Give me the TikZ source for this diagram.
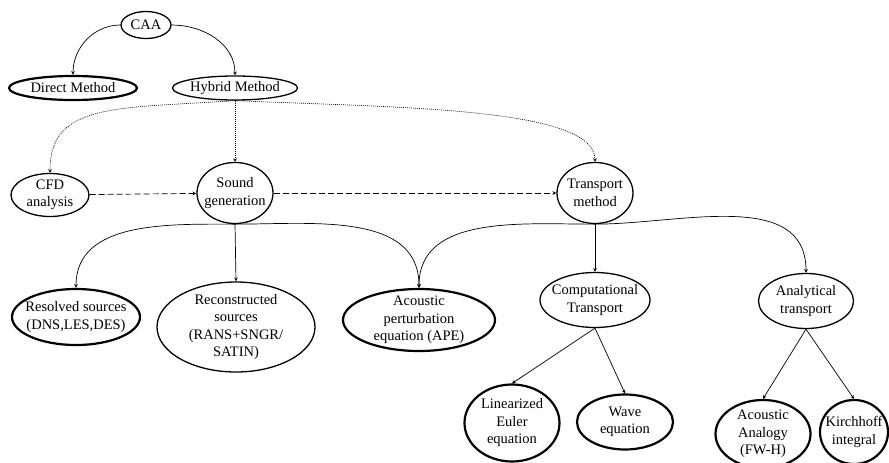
\documentclass[tikz,border=0pt]{standalone}
\usepackage{fontspec}
\setmainfont{Liberation Serif}
\usetikzlibrary{shapes.geometric,arrows,positioning}
\tikzstyle{oval} = [ellipse, draw, line width=1.3pt, align=center, inner sep=-10pt]
\tikzstyle{boldoval} = [oval, line width=2.2pt]
\tikzstyle{arrow} = [line width=0.7pt,->,>=stealth]
\tikzstyle{dots} = [arrow, line width=0.6pt, dash pattern=on 1pt off 1pt]
\tikzstyle{dashes} = [arrow, dash pattern=on 6pt off 3pt]
\tikzset{dims/.style 2 args={minimum width=#1pt, minimum height=#2pt}}

\begin{document}
\begin{tikzpicture}[x=1pt, y=-1pt, font=\fontsize{14.5}{17.5}\selectfont]
\useasboundingbox (0,0) rectangle (889,463);
% top level
\node[oval, dims={50}{27}] (caa) at (146,25) {CAA};
\node[boldoval, dims={128}{24}] (direct) at (73,88) {Direct Method};
\node[oval, dims={125}{24}] (hybrid) at (235,88) {Hybrid Method};
% hybrid chain
\node[oval, dims={78}{43}] (cfd) at (50,195) {CFD\\analysis};
\node[oval, dims={76}{61}] (sound) at (235,193) {Sound\\generation};
\node[oval, dims={76}{61}] (trans) at (595,193) {Transport\\method};
% sources
\node[boldoval, dims={128}{56}] (resolved) at (76,317) {Resolved sources\\(DNS,LES,DES)};
\node[oval, dims={158}{90}] (recon) at (236,327) {Reconstructed\\sources\\(RANS+SNGR/\\SATIN)};
\node[boldoval, dims={152}{62}] (ape) at (419,320) {Acoustic\\perturbation\\equation (APE)};
% transport
\node[oval, dims={110}{55}] (comp) at (595,300) {Computational\\Transport};
\node[oval, dims={95}{55}] (anal) at (806,301) {Analytical\\transport};
\node[boldoval, dims={95}{77}] (lee) at (512,423) {Linearized\\Euler\\equation};
\node[boldoval, dims={96}{55}] (wave) at (625,422) {Wave\\equation};
\node[boldoval, dims={95}{68}] (aa) at (763,434) {Acoustic\\Analogy\\(FW-H)};
\node[boldoval, dims={68}{64}] (kir) at (854,432) {Kirchhoff\\integral};

\draw[arrow] (caa.west) to[out=180,in=90] (direct.north);
\draw[arrow] (caa.east) to[out=0,in=90] (hybrid.north);
\draw[dots] (hybrid.south) .. controls +(-120,8) and +(0,-70) .. (cfd.north);
\draw[dots] (hybrid.south) -- (sound.north);
\draw[dots] (hybrid.south) .. controls +(160,7) and +(0,-55) .. (trans.north);
\draw[dashes] (cfd) -- (sound);
\draw[dashes] (sound) -- (trans);
\draw[arrow] (sound.south) to[out=180,in=90] (resolved.north);
\draw[arrow] (sound.south) -- (recon.north);
\draw[arrow] (sound.south) to[out=0,in=90] (ape.north);
\draw[arrow] (trans.south) to[out=180,in=90] (ape.north);
\draw[arrow] (trans.south) -- (comp.north);
\draw[arrow] (trans.south) to[out=0,in=90] (anal.north);
\draw[arrow] (comp.south) -- (lee.north);
\draw[arrow] (comp.south) -- (wave.north);
\draw[arrow] (anal.south) -- (aa.north);
\draw[arrow] (anal.south) -- (kir.north);
\end{tikzpicture}
\end{document}
